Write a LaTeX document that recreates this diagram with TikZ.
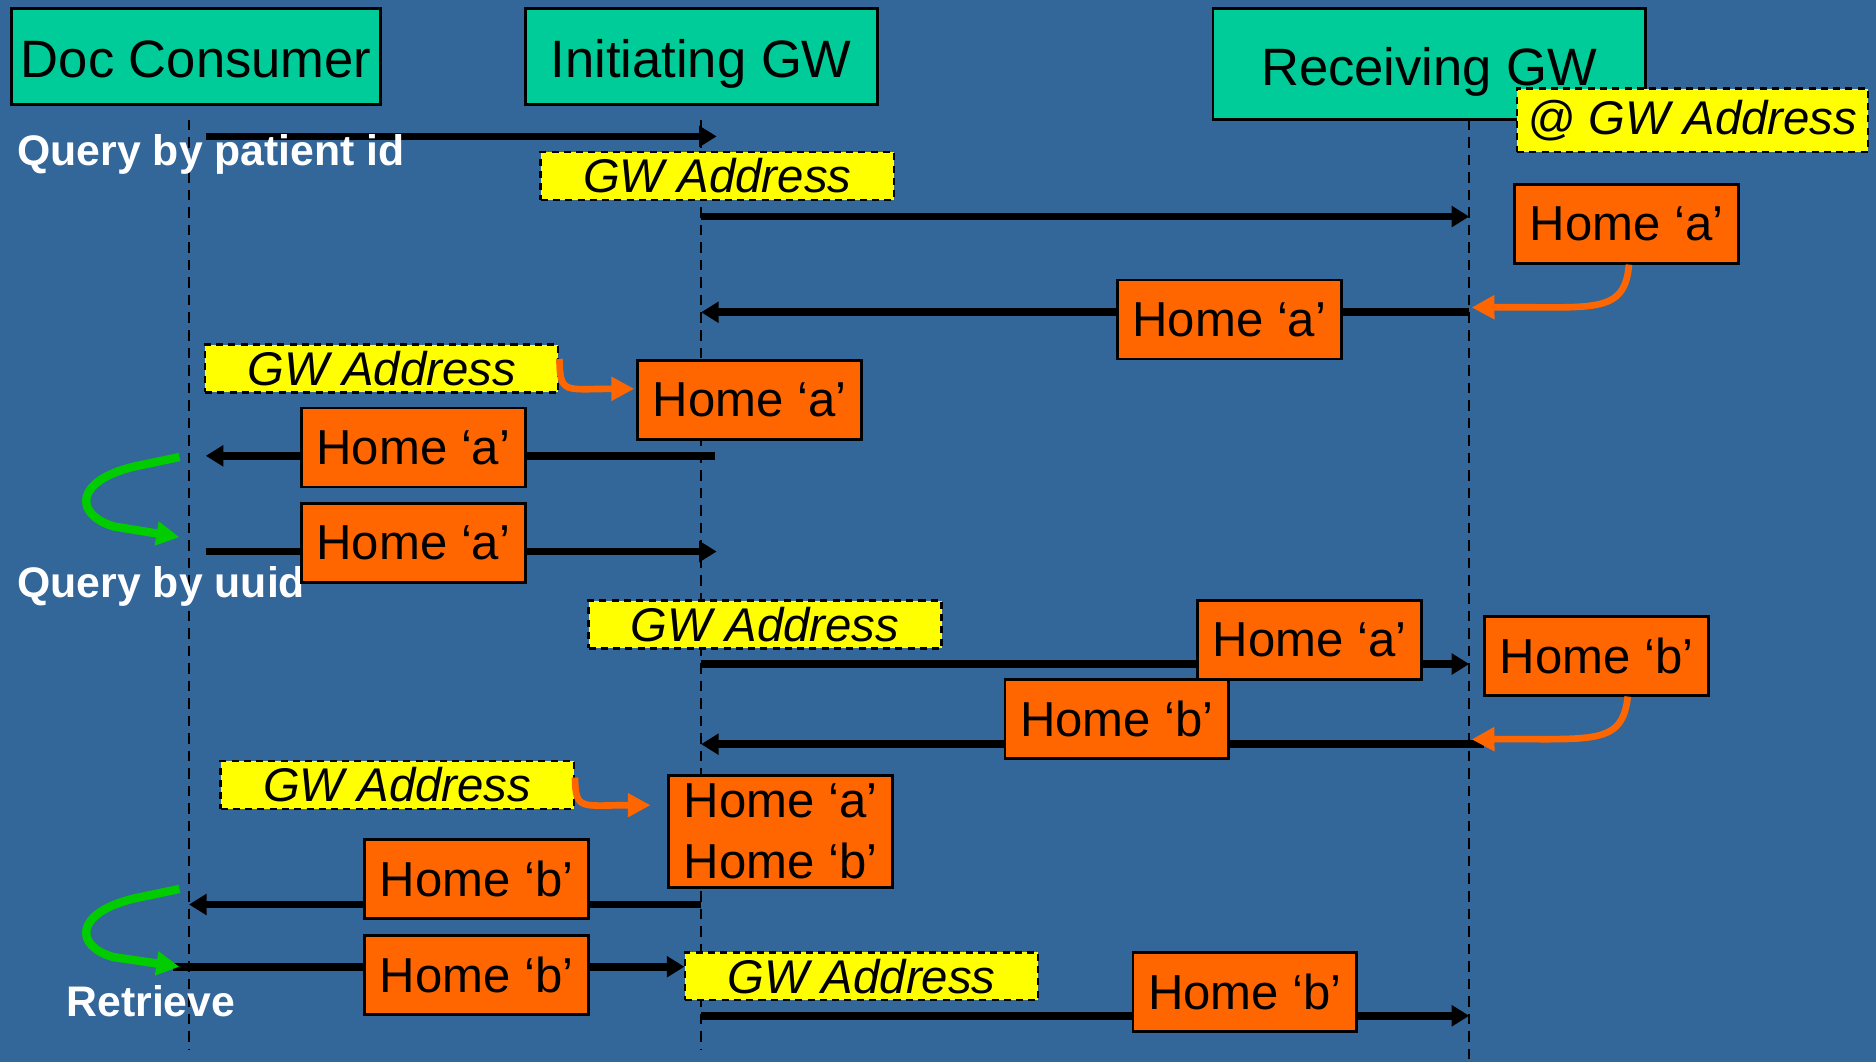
\documentclass[tikz,border=0pt]{standalone}
\usepackage{fontspec}
\setmainfont{Liberation Sans}
\usetikzlibrary{arrows.meta}
\pgfdeclarelayer{back}
\pgfdeclarelayer{bg}
\pgfsetlayers{back,bg,main}
\definecolor{bgblue}{HTML}{336699}
\definecolor{hdrcol}{HTML}{00CC99}
\definecolor{homecol}{HTML}{FF6600}
\definecolor{addrcol}{HTML}{FFFF00}
\definecolor{grncol}{HTML}{00CC00}
\tikzset{
  hdr/.style={draw=black, line width=0.8pt, fill=hdrcol, inner sep=0pt, text height=12pt, text depth=0pt, font=\fontsize{15}{18}\selectfont},
  home/.style={draw=black, line width=0.8pt, fill=homecol, minimum width=2.244cm, minimum height=0.792cm, inner sep=0pt, font=\fontsize{14}{17}\selectfont},
  addr/.style={draw=black, dash pattern=on 2pt off 1.5pt, line width=0.7pt, fill=addrcol, minimum width=3.54cm, minimum height=0.48cm, inner sep=0pt, font=\fontsize{13.5}{16}\selectfont\itshape},
  msg/.style={draw=black, line width=2.2pt, -{Triangle[length=5pt,width=5.8pt]}},
  life/.style={draw=black, dash pattern=on 3pt off 2pt, line width=0.5pt},
  lbl/.style={text=white, font=\fontsize{12.2}{14}\selectfont\bfseries, anchor=west, inner sep=0pt},
  orng/.style={draw=homecol, line width=1.9pt, -{Triangle[length=6.5pt,width=6.5pt]}},
  grn/.style={draw=grncol, line width=2.4pt, -{Triangle[length=6.6pt,width=6.6pt]}},
}
\begin{document}
\begin{tikzpicture}[x=0.012cm,y=-0.012cm]
\begin{pgfonlayer}{back}
\fill[bgblue] (0,0) rectangle (1568,888);
\end{pgfonlayer}
\useasboundingbox (0,0) rectangle (1568,888);

% headers
\node[hdr, minimum width=3.696cm, minimum height=0.96cm] (dc) at (164,47) {Doc Consumer};
\node[hdr, minimum width=3.528cm, minimum height=0.96cm] (ig) at (586,47) {Initiating GW};
\node[hdr, minimum width=4.332cm, minimum height=1.116cm] (rg) at (1194.5,53.5) {Receiving GW};
\node[addr, minimum width=3.516cm, minimum height=0.636cm] (ga0) at (1414.5,100.5) {@ GW Address};

% lifeline coordinates
\coordinate (l1t) at (158,100); \coordinate (l1b) at (158,878);
\coordinate (l2t) at (586,100); \coordinate (l2b) at (586,878);
\coordinate (l3t) at (1228,100); \coordinate (l3b) at (1228,888);

% message end points
\coordinate (m1a) at (172,114); \coordinate (m1b) at (599,114);
\coordinate (m2a) at (586,181); \coordinate (m2b) at (1228,181);
\coordinate (m3a) at (1228,261); \coordinate (m3b) at (586,261);
\coordinate (m4a) at (598,381); \coordinate (m4b) at (172,381);
\coordinate (m5a) at (172,461); \coordinate (m5b) at (599,461);
\coordinate (m6a) at (586,555); \coordinate (m6b) at (1228,555);
\coordinate (m7a) at (1240,622); \coordinate (m7b) at (586,622);
\coordinate (m8a) at (586,756); \coordinate (m8b) at (158,756);
\coordinate (m9a) at (145,808); \coordinate (m9b) at (572,808);
\coordinate (m10a) at (586,849); \coordinate (m10b) at (1228,849);

\begin{pgfonlayer}{bg}
\draw[life] (l1t) -- (l1b);
\draw[life] (l2t) -- (l2b);
\draw[life] (l3t) -- (l3b);
\draw[msg] (m1a) -- (m1b);
\draw[msg] (m2a) -- (m2b);
\draw[msg] (m3a) -- (m3b);
\draw[msg] (m4a) -- (m4b);
\draw[msg] (m5a) -- (m5b);
\draw[msg] (m6a) -- (m6b);
\draw[msg] (m7a) -- (m7b);
\draw[msg] (m8a) -- (m8b);
\draw[msg] (m9a) -- (m9b);
\draw[msg] (m10a) -- (m10b);
\end{pgfonlayer}

% labels
\node[lbl] (q1) at (14,129) {Query by patient id};
\node[lbl] (q2) at (14,490) {Query by uuid};
\node[lbl] (q3) at (55,837) {Retrieve};

% address boxes
\node[addr] (ga1) at (599.5,147) {GW Address};
\node[addr] (ga2) at (319,308) {GW Address};
\node[addr] (ga3) at (639.5,522) {GW Address};
\node[addr] (ga4) at (332,656) {GW Address};
\node[addr] (ga5) at (720,816) {GW Address};

% home boxes
\node[home] (h1) at (1359.5,187) {Home ‘a’};
\node[home] (h2) at (1027.5,267) {Home ‘a’};
\node[home] (h3) at (626.5,334) {Home ‘a’};
\node[home] (h4) at (345.5,374) {Home ‘a’};
\node[home] (h5) at (345.5,454) {Home ‘a’};
\node[home] (h6) at (1094.5,535) {Home ‘a’};
\node[home] (h7) at (1334.5,548) {Home ‘b’};
\node[home] (h8) at (933.5,601) {Home ‘b’};
\node[home, minimum height=1.128cm, align=center, font=\fontsize{14}{17.5}\selectfont] (h9) at (652.5,695) {Home ‘a’\\Home ‘b’};
\node[home] (h10) at (398.5,735) {Home ‘b’};
\node[home] (h11) at (398.5,815) {Home ‘b’};
\node[home] (h12) at (1040.5,829) {Home ‘b’};

% orange arrows
\coordinate (o1) at (1230,257);
\draw[orng] (h1.south) ++(2,0) .. controls (1358,264) and (1330,256) .. (o1);
\draw[orng] (ga2.east) ++(0,-8) .. controls (468,330) and (472,325) .. ([xshift=-0.02cm,yshift=0.108cm]h3.west);
\coordinate (o2) at (1230,618);
\draw[orng] (h7.south) ++(26,0) .. controls (1356,624) and (1330,617) .. (o2);
\draw[orng] (ga4.east) ++(0,-6) .. controls (481,678) and (486,673) .. ([xshift=-0.168cm,yshift=0.264cm]h9.west);

% green arrows
\coordinate (g1a) at (150,382); \coordinate (g1b) at (150,449);
\draw[grn] (g1a) -- (112,390) .. controls (62,402) and (62,430) .. (95,440) -- (g1b);
\coordinate (g2a) at (150,743); \coordinate (g2b) at (150,808);
\draw[grn] (g2a) -- (112,751) .. controls (62,763) and (62,791) .. (95,800) -- (g2b);
\end{tikzpicture}
\end{document}
